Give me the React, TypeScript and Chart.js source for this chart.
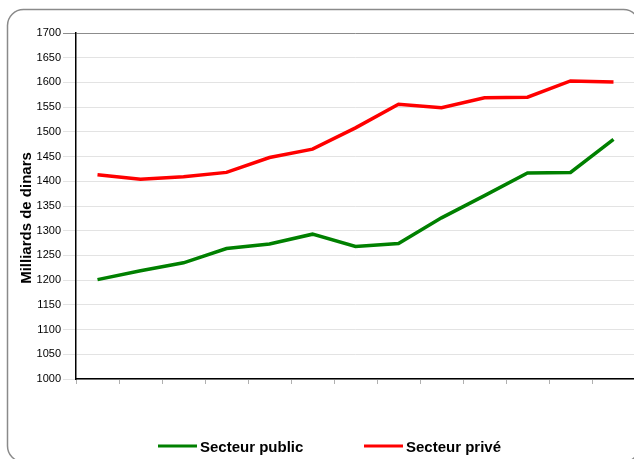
import React, { useEffect, useRef } from "react";
import { Chart, registerables } from "chart.js";

Chart.register(...registerables);

const categories = ["1", "2", "3", "4", "5", "6", "7", "8", "9", "10", "11", "12", "13"];
const secteurPublic = [1201, 1219, 1235, 1264, 1273, 1293, 1268, 1274, 1326, 1371, 1417, 1418, 1485];
const secteurPrive = [1413, 1404, 1409, 1418, 1448, 1465, 1508, 1556, 1549, 1569, 1570, 1603, 1601];
const yTicks = { min: 1000, max: 1700, step: 50 };
const yTitle = "Milliards de dinars";
const seriesNames = ["Secteur public", "Secteur privé"];
const seriesColors = ["#008000", "#ff0000"];

const FONT = '"Liberation Sans", Arial, sans-serif';

export default function App() {
  const ref = useRef<HTMLCanvasElement | null>(null);

  useEffect(() => {
    document.body.style.margin = "0";
    document.body.style.overflow = "hidden";
    const canvas = ref.current;
    if (!canvas) return;

    const decor = {
      id: "decor",
      beforeDraw(chart: any) {
        const ctx = chart.ctx;
        ctx.save();
        ctx.fillStyle = "#fff";
        ctx.fillRect(0, 0, chart.width, chart.height);
        // frame
        const x0 = 7.5, y0 = 9.5, x1 = 639.5, y1 = 462, r = 16;
        ctx.beginPath();
        ctx.moveTo(x0 + r, y0);
        ctx.lineTo(x1 - r, y0);
        ctx.arcTo(x1, y0, x1, y0 + r, r);
        ctx.lineTo(x1, y1 - r);
        ctx.arcTo(x1, y1, x1 - r, y1, r);
        ctx.lineTo(x0 + r, y1);
        ctx.arcTo(x0, y1, x0, y1 - r, r);
        ctx.lineTo(x0, y0 + r);
        ctx.arcTo(x0, y0, x0 + r, y0, r);
        ctx.closePath();
        ctx.strokeStyle = "#8a8a8a";
        ctx.lineWidth = 1.5;
        ctx.stroke();
        ctx.restore();
      },
      afterDraw(chart: any) {
        const ctx = chart.ctx;
        ctx.save();
        // y title
        ctx.font = `bold 15px ${FONT}`;
        ctx.fillStyle = "#000";
        ctx.textAlign = "center";
        ctx.textBaseline = "alphabetic";
        ctx.translate(31, 218);
        ctx.rotate(-Math.PI / 2);
        ctx.fillText(yTitle, 0, 0);
        ctx.restore();

        // legend
        ctx.save();
        ctx.font = `bold 15px ${FONT}`;
        ctx.textAlign = "left";
        ctx.textBaseline = "alphabetic";
        const starts = [158, 364];
        chart.data.datasets.forEach((ds: any, i: number) => {
          const sx = starts[i];
          ctx.strokeStyle = ds.borderColor;
          ctx.lineWidth = 3;
          ctx.beginPath();
          ctx.moveTo(sx, 446);
          ctx.lineTo(sx + 39, 446);
          ctx.stroke();
          ctx.fillStyle = "#000";
          ctx.fillText(ds.label, sx + 42, 452);
        });
        ctx.restore();
      },
    };

    const chart = new Chart(canvas, {
      type: "line",
      data: {
        labels: categories,
        datasets: [
          {
            label: seriesNames[0],
            data: secteurPublic,
            borderColor: seriesColors[0],
            backgroundColor: seriesColors[0],
            borderWidth: 3.5,
            pointRadius: 0,
            tension: 0,
          },
          {
            label: seriesNames[1],
            data: secteurPrive,
            borderColor: seriesColors[1],
            backgroundColor: seriesColors[1],
            borderWidth: 3.5,
            pointRadius: 0,
            tension: 0,
          },
        ],
      },
      options: {
        animation: false,
        responsive: false,
        devicePixelRatio: 1,
        layout: { padding: { left: 0, top: 33, right: 25, bottom: 71 } },
        plugins: {
          legend: { display: false },
          tooltip: { enabled: false },
          title: { display: false },
        },
        scales: {
          x: {
            offset: true,
            grid: {
              offset: true,
              drawOnChartArea: false,
              drawTicks: true,
              tickLength: 5,
              tickColor: "#b0b0b0",
              lineWidth: 1,
            },
            border: { display: true, color: "#000", width: 1.5 },
            ticks: { display: false },
            afterFit: (s: any) => {
              s.height = 20;
            },
          },
          y: {
            min: yTicks.min,
            max: yTicks.max,
            ticks: {
              stepSize: yTicks.step,
              color: "#000",
              font: { family: FONT, size: 11 },
              padding: 2,
              callback: (v: any) => String(v),
            },
            grid: {
              color: (c: any) => (c.tick && c.tick.value === yTicks.max ? "#8c8c8c" : "#e3e3e3"),
              tickColor: (c: any) => (c.tick && c.tick.value === yTicks.max ? "#8c8c8c" : "#e3e3e3"),
              tickLength: 13,
              lineWidth: 1,
            },
            border: { display: true, color: "#000", width: 1.5 },
            afterFit: (s: any) => {
              s.width = 76;
            },
          },
        },
      },
      plugins: [decor],
    });

    return () => chart.destroy();
  }, []);

  return (
    <div style={{ position: "fixed", left: 0, top: 0, width: 634, height: 459, overflow: "hidden" }}>
      <canvas ref={ref} width={660} height={470} style={{ width: 660, height: 470, display: "block" }} />
    </div>
  );
}
